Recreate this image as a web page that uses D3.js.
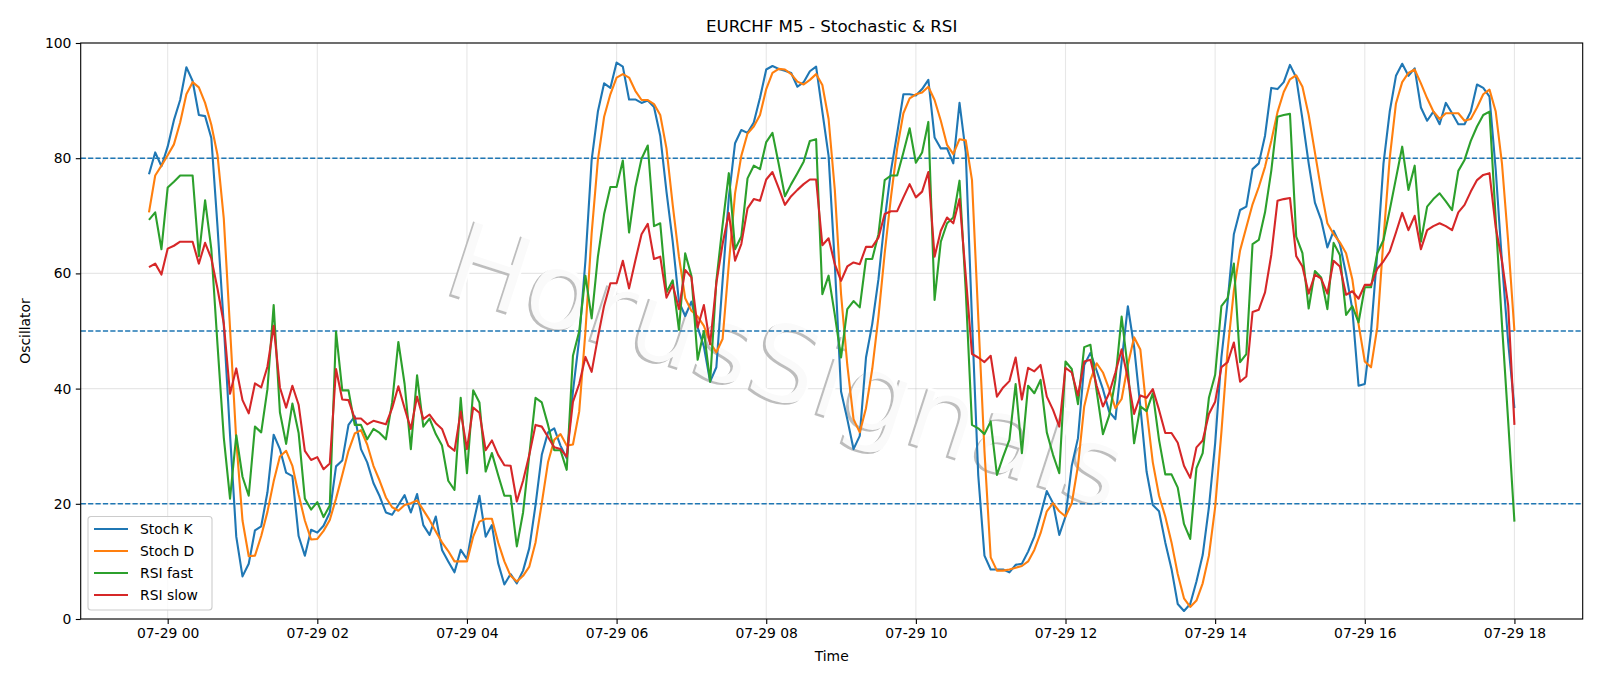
<!DOCTYPE html>
<html lang="en">
<head>
<meta charset="UTF-8">
<title>EURCHF M5 - Stochastic & RSI</title>
<script src="https://d3js.org/d3.v7.min.js"></script>
<style>
 body { margin: 0; background: #fff; font-family: "DejaVu Sans", sans-serif; }
 .tick text { font-family: "DejaVu Sans", sans-serif; font-size: 13.9px; fill: #000; }
 .tick line { stroke: #000; stroke-width: 1.1px; }
 .domain { display: none; }
 .grid line { stroke: #b0b0b0; stroke-opacity: 0.3; stroke-width: 1.1px; }
 .series { fill: none; stroke-width: 2.1px; stroke-linejoin: round; }
</style>
</head>
<body>
<div id="chart"></div>
<script>
// series start 07-28 23:45, one value every 5 minutes up to 07-29 18:00
const startTime = Date.UTC(2025, 6, 28, 23, 45);
const stepMinutes = 5;

const stochK = [
  77.2, 81, 78.6, 82, 86.6, 90.1, 95.8, 93.4, 87.5, 87.3, 83.5, 68, 51, 32, 14.3, 7.4, 9.6, 15.4, 16.1, 22,
  32, 29.5, 25.4, 24.8, 14.4, 11, 15.5, 15, 16.2, 18.5, 26.5, 27.5, 33.7, 35.2, 29.5, 27.2, 23.6, 21.3, 18.5, 18.1,
  19.8, 21.5, 18.5, 21.7, 16.3, 14.6, 17.8, 12, 10, 8.1, 12, 10.4, 16.5, 21.4, 14.3, 16.3, 9.7, 6, 7.8, 6.2,
  8.4, 12.3, 19.8, 28.5, 32.4, 33.1, 30.1, 27.9, 39.5, 48.6, 62.2, 79.7, 88.1, 93, 92.2, 96.6, 95.9, 90.2, 90.2, 89.6,
  90, 88.9, 83.9, 74.2, 65.5, 55.1, 52.6, 55.1, 50.6, 47.3, 41.2, 43.7, 58.7, 73.2, 82.6, 84.9, 84.4, 86.2, 90.5, 95.4,
  96, 95.5, 95.2, 94.8, 92.4, 93.2, 95.1, 95.9, 88.1, 80.4, 61.6, 39.5, 34.7, 29.5, 31.8, 45.4, 51.2, 59, 69.3, 77.8,
  84.3, 91.1, 91.1, 90.9, 92, 93.6, 83.6, 81.7, 81.7, 79.1, 89.6, 81, 52, 25, 11, 8.6, 8.6, 8.6, 8.1, 9.4,
  9.6, 11.7, 14.3, 18.1, 22.2, 20.1, 14.6, 17.8, 26.6, 31.4, 44.1, 46.2, 43.1, 39.9, 36, 34.7, 44.7, 54.3, 47.3, 36.9,
  25.6, 19.8, 18.7, 13.3, 8.7, 2.6, 1.4, 2.6, 6.5, 11.1, 19.4, 30.5, 45.4, 55.1, 66.8, 71, 71.6, 78.1, 79.1, 83.9,
  92.2, 92, 93.2, 96.2, 94, 86.8, 79.1, 72.3, 69.3, 64.5, 67.4, 65.1, 59.9, 53.8, 40.5, 40.8, 49.9, 63.5, 79.1, 88.1,
  94.3, 96.4, 94.3, 95.6, 88.8, 86.5, 88.1, 85.9, 89.6, 87.8, 85.9, 85.9, 88.1, 92.8, 92.2, 90.7, 78, 62, 48, 36.6
];

const stochD = [
  70.6, 77, 78.7, 80.5, 82.4, 86.2, 91.1, 93.2, 92.3, 89.6, 85.8, 80.5, 69.5, 50.5, 31, 17.1, 10.9, 11, 14.4, 18.6,
  23.9, 28.2, 29.2, 26.6, 21.6, 17.1, 13.8, 13.9, 15.3, 17.2, 20.9, 25, 29.2, 32.2, 32.8, 30.3, 26.6, 24, 21.1, 19.4,
  18.8, 19.8, 20.1, 20.6, 18.9, 17.2, 15.2, 13.3, 11.8, 10, 10, 10, 14.3, 16.9, 17.4, 17.4, 13.3, 10, 7.5, 6.5,
  7.5, 9.1, 13.3, 20.1, 27.2, 31.1, 32.1, 30.1, 30.3, 36, 49.9, 67, 79.7, 87.2, 91.1, 94, 94.6, 94, 91.7, 90.1,
  90.1, 89.4, 87.5, 81.7, 71.9, 62.9, 55.7, 53.5, 52.5, 50.9, 48, 46.3, 48.6, 61.6, 73.9, 80.4, 84.3, 85.5, 87.5, 92,
  94.8, 95.5, 95.4, 94.6, 93.3, 92.8, 93.6, 94.6, 92.7, 86.8, 74.5, 56.4, 44.1, 34.7, 32.4, 36.6, 43.4, 52.5, 63.5, 73.2,
  81.7, 87.8, 90.4, 91.1, 91.4, 92.4, 90.1, 86.5, 82.3, 80.7, 83.3, 83.1, 76.2, 52.5, 29.2, 10.7, 8.4, 8.4, 8.6, 8.9,
  9.2, 10, 12, 14.9, 18.7, 20.1, 18.7, 17.8, 20.1, 26.6, 36.9, 41.5, 44.4, 42.8, 39.9, 36.6, 38.2, 44.1, 48.9, 46.8,
  36.3, 27.2, 21.4, 17.8, 13.3, 7.8, 3.6, 2.1, 3.2, 6.2, 11, 19.4, 32.4, 46.7, 57, 64, 68, 72, 75, 78.5,
  83, 88, 91.5, 93.7, 94.4, 92.4, 87.5, 81, 74.5, 68.7, 66.8, 65.4, 63.5, 59, 51.2, 44.7, 43.7, 50.6, 66, 80,
  89.5, 93.2, 94.8, 95.4, 93, 90.4, 88.1, 86.8, 87.8, 87.8, 87.8, 86.5, 86.8, 88.8, 91.1, 91.9, 88.1, 79.1, 65.5, 50
];

const rsiFast = [
  69.3, 70.6, 64.2, 74.9, 75.9, 77, 77, 77, 63, 72.7, 64.2, 47.5, 31.5, 20.9, 31.9, 24.7, 21.4, 33.4, 32.4, 39.9,
  54.5, 35.9, 30.4, 37.4, 32.3, 20.9, 19, 20.3, 17.7, 19.7, 49.9, 39.7, 39.7, 33.7, 33.7, 31.2, 33, 32.3, 31.2, 37.6,
  48.1, 40.8, 29.5, 42.3, 33.4, 34.8, 32.1, 30.1, 24, 22.4, 38.4, 25.3, 39.7, 37.6, 25.6, 28.8, 25, 21.4, 21.4, 12.6,
  18.5, 28.5, 38.4, 37.6, 33.7, 29.3, 29.3, 25.9, 45.7, 49.9, 59.6, 52.2, 62.9, 70.3, 75, 75, 79.6, 67.1, 74.9, 79.9,
  82.2, 68.2, 68.7, 56.7, 58.8, 50.2, 63.5, 59.6, 45, 50, 41.2, 58.7, 68.4, 77.4, 64.2, 66.4, 76.5, 78.7, 78.1, 82.8,
  84.4, 79, 73.4, 75.5, 77.4, 79.4, 83, 83.3, 56.4, 59.6, 52.8, 45.4, 53.8, 55.2, 54.1, 62.5, 62.5, 66.8, 76.2, 77,
  77, 81, 85.2, 79.2, 81, 86.3, 55.4, 65.5, 68.7, 69.7, 76.1, 57, 33.7, 33.1, 32.1, 34.3, 25, 28.2, 31.1, 40.8,
  28.8, 40.5, 39.2, 41.5, 32.4, 28.5, 25.3, 44.7, 43.4, 37.3, 47.2, 47.6, 39.5, 32.1, 35.3, 41.5, 52.5, 43.4, 30.5, 36.9,
  36.1, 39.2, 31.1, 25.1, 25.1, 22.8, 16.5, 13.9, 26.2, 28.8, 38.4, 42.4, 54.3, 55.7, 61.7, 44.6, 46, 65.1, 65.8, 70.6,
  77.8, 87.2, 87.5, 87.7, 66.4, 63.5, 53.9, 60.4, 59.3, 53.8, 65.3, 63.2, 52.8, 54.3, 51.5, 57.6, 57.6, 63.5, 65.8, 71,
  76.5, 82, 74.5, 78.7, 65.5, 71.6, 72.9, 73.9, 72.5, 71, 77.8, 79.7, 83, 85.5, 87.5, 88.1, 69.3, 51.2, 34.3, 16.9
];

const rsiSlow = [
  61.1, 61.7, 59.8, 64.3, 64.8, 65.5, 65.5, 65.5, 61.7, 65.3, 62.6, 57.3, 51.3, 39.1, 43.5, 38, 35.7, 40.9, 40.2, 43.8,
  50.9, 40.2, 36.7, 40.5, 37.2, 29.2, 27.6, 28.1, 26, 27, 43.4, 38.1, 38, 34.8, 34.8, 33.8, 34.4, 34.1, 33.8, 36.6,
  40.4, 36.6, 33, 38.6, 34.7, 35.5, 34, 33, 30.1, 29.2, 36, 29.5, 36.7, 35.8, 29.3, 31, 28.5, 26.7, 26.6, 20.4,
  24, 28.5, 33.7, 33.4, 31.6, 29.8, 29.5, 28.2, 37.7, 40.8, 45.5, 42.9, 48.9, 54.4, 58.3, 58.3, 62.2, 57.4, 62.2, 66.8,
  68.6, 62.5, 62.9, 55.8, 58, 53.8, 60.6, 59.3, 50.6, 54.5, 47.7, 58.3, 65.1, 70.5, 62.2, 65.1, 71.3, 72.9, 72.6, 76.3,
  77.6, 74.8, 71.9, 73.4, 74.5, 75.5, 76.3, 76.3, 64.9, 66.1, 61.6, 58.7, 61.2, 61.9, 61.6, 64.6, 64.6, 66.2, 70.3, 70.8,
  70.8, 73.2, 75.5, 73.2, 74.2, 77.6, 62.9, 67.4, 69.7, 68.7, 72.9, 59.6, 46, 45.4, 44.6, 45.7, 38.6, 40.2, 41.3, 45.4,
  38.1, 43.6, 43, 44.1, 38.6, 36.3, 33.4, 43.6, 42.8, 38.8, 44.7, 45, 40.5, 36.9, 39.2, 42.8, 46.8, 41.8, 35.6, 38.8,
  38.4, 39.9, 36.3, 32.3, 32.3, 30.6, 26.6, 24.5, 29.8, 31, 35.6, 37.7, 43.7, 44.6, 48, 41.2, 42.1, 53.3, 53.7, 56.7,
  63.2, 72.6, 72.9, 73.1, 63, 61.2, 56.5, 59.8, 59.1, 56.5, 62.2, 61.2, 56.3, 56.9, 55.6, 58, 58, 60.8, 62.1, 63.8,
  67.1, 70.5, 67.5, 70, 64.2, 67.5, 68.2, 68.7, 68.2, 67.5, 70.6, 71.9, 74.2, 76.2, 77.1, 77.4, 68, 62.2, 54.4, 33.7
];

const seriesNames = ["Stoch K", "Stoch D", "RSI fast", "RSI slow"];
const seriesColors = ["#1f77b4", "#ff7f0e", "#2ca02c", "#d62728"];
const levels = [80, 50, 20];
const yTicks = [0, 20, 40, 60, 80, 100];
const xTickHours = [0, 2, 4, 6, 8, 10, 12, 14, 16, 18];

const width = 1600, height = 686;
const margin = { top: 43, right: 17.3, bottom: 67, left: 80.7 };
const innerW = width - margin.left - margin.right;
const innerH = height - margin.top - margin.bottom;

const times = stochK.map((_, i) => new Date(startTime + i * stepMinutes * 60000));
const span = times[times.length - 1] - times[0];

const x = d3.scaleUtc()
  .domain([new Date(+times[0] - span * 0.05), new Date(+times[times.length - 1] + span * 0.05)])
  .range([0, innerW]);
const y = d3.scaleLinear().domain([0, 100]).range([innerH, 0]);

const svg = d3.select('#chart').append('svg')
  .attr('width', width)
  .attr('height', height);

const g = svg.append('g')
  .attr('transform', `translate(${margin.left},${margin.top})`);

const tickDates = xTickHours.map(h => new Date(Date.UTC(2025, 6, 29, h)));

// grid
g.append('g').attr('class', 'grid')
  .selectAll('line').data(tickDates).enter().append('line')
  .attr('x1', d => x(d)).attr('x2', d => x(d))
  .attr('y1', 0).attr('y2', innerH);
g.append('g').attr('class', 'grid')
  .selectAll('line').data(yTicks).enter().append('line')
  .attr('x1', 0).attr('x2', innerW)
  .attr('y1', d => y(d)).attr('y2', d => y(d));

// watermark: gray shadow with a white copy on top, so only thin edges show
const wm = g.append('g')
  .attr('transform', `translate(${788 - margin.left},${364 - margin.top}) rotate(18)`);
wm.append('text')
  .attr('x', -2).attr('y', 2.5)
  .attr('text-anchor', 'middle').attr('dy', '0.35em')
  .style('font-family', 'DejaVu Sans').style('font-size', '108px')
  .attr('fill', '#bdbdbd')
  .text('HorusSignals');
wm.append('text')
  .attr('text-anchor', 'middle').attr('dy', '0.35em')
  .style('font-family', 'DejaVu Sans').style('font-size', '108px')
  .attr('fill', '#ffffff').attr('fill-opacity', 0.92)
  .text('HorusSignals');

// level lines
g.selectAll('.level').data(levels).enter().append('line')
  .attr('class', 'level')
  .attr('x1', 0).attr('x2', innerW)
  .attr('y1', d => y(d)).attr('y2', d => y(d))
  .attr('stroke', '#1f77b4').attr('stroke-width', 1.4)
  .attr('stroke-dasharray', '5.2,2.2');

// series
const allSeries = [stochK, stochD, rsiFast, rsiSlow];
const line = d3.line()
  .x((d, i) => x(times[i]))
  .y(d => y(d));

allSeries.forEach((vals, k) => {
  g.append('path')
    .datum(vals)
    .attr('class', 'series')
    .attr('stroke', seriesColors[k])
    .attr('d', line);
});

// axes
const xAxis = d3.axisBottom(x)
  .tickValues(tickDates)
  .tickFormat(d3.utcFormat('%m-%d %H'))
  .tickSize(4.9).tickPadding(4.4);
g.append('g')
  .attr('transform', `translate(0,${innerH})`)
  .call(xAxis);

const yAxis = d3.axisLeft(y)
  .tickValues(yTicks)
  .tickSize(4.9).tickPadding(4.4);
g.append('g').call(yAxis);

// frame
g.append('rect')
  .attr('width', innerW).attr('height', innerH)
  .attr('fill', 'none').attr('stroke', '#000').attr('stroke-width', 1.1);

// titles
svg.append('text')
  .attr('x', margin.left + innerW / 2).attr('y', 32)
  .attr('text-anchor', 'middle')
  .style('font-size', '16.7px')
  .text('EURCHF M5 - Stochastic & RSI');

svg.append('text')
  .attr('x', margin.left + innerW / 2).attr('y', 661)
  .attr('text-anchor', 'middle')
  .style('font-size', '13.9px')
  .text('Time');

svg.append('text')
  .attr('transform', `translate(30,${margin.top + innerH / 2}) rotate(-90)`)
  .attr('text-anchor', 'middle')
  .style('font-size', '13.9px')
  .text('Oscillator');

// legend
const legend = svg.append('g').attr('transform', 'translate(88,516.5)');
legend.append('rect')
  .attr('width', 124).attr('height', 93.5)
  .attr('rx', 3)
  .attr('fill', '#fff').attr('fill-opacity', 0.8)
  .attr('stroke', '#cccccc').attr('stroke-width', 1.1);

seriesNames.forEach((name, k) => {
  const row = legend.append('g').attr('transform', `translate(0,${12.5 + k * 22})`);
  row.append('line')
    .attr('x1', 6).attr('x2', 40)
    .attr('stroke', seriesColors[k]).attr('stroke-width', 2.1);
  row.append('text')
    .attr('x', 52).attr('dy', '0.35em')
    .style('font-size', '13.9px')
    .text(name);
});
</script>
</body>
</html>
